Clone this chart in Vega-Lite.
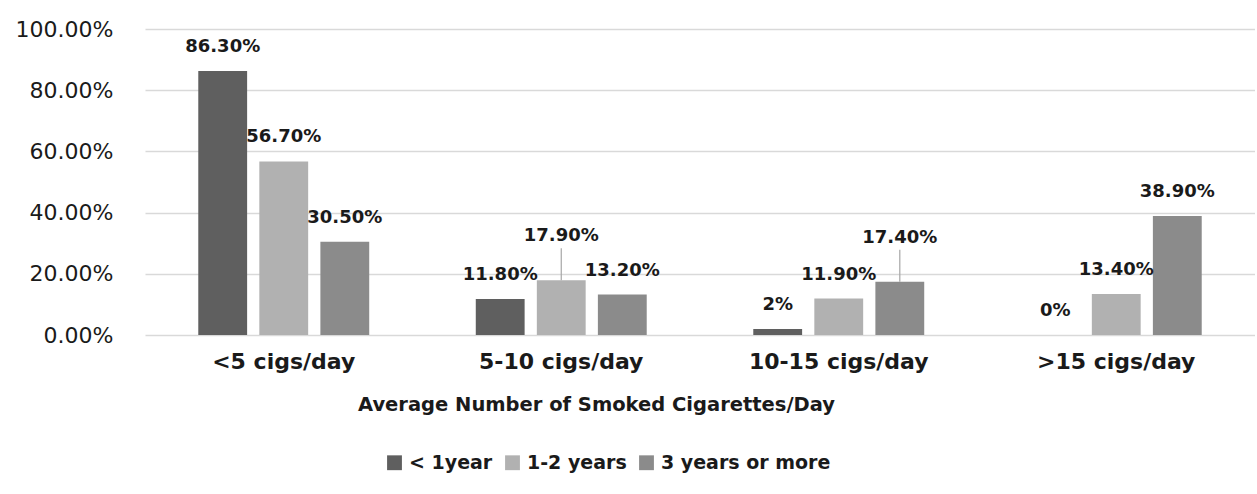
{
  "$schema": "https://vega.github.io/schema/vega-lite/v6.json",
  "width": 1110,
  "height": 306,
  "autosize": {"type": "none"},
  "padding": {"left": 145, "top": 29, "right": 0, "bottom": 159},
  "background": "white",
  "config": {
    "view": {"stroke": null},
    "font": "DejaVu Sans"
  },
  "data": {
    "values": [
      {"category": "<5 cigs/day", "group": "< 1year", "value": 0.863, "label": "86.30%"},
      {"category": "<5 cigs/day", "group": "1-2 years", "value": 0.567, "label": "56.70%"},
      {"category": "<5 cigs/day", "group": "3 years or more", "value": 0.305, "label": "30.50%"},
      {"category": "5-10 cigs/day", "group": "< 1year", "value": 0.118, "label": "11.80%"},
      {"category": "5-10 cigs/day", "group": "1-2 years", "value": 0.179, "label": "17.90%"},
      {"category": "5-10 cigs/day", "group": "3 years or more", "value": 0.132, "label": "13.20%"},
      {"category": "10-15 cigs/day", "group": "< 1year", "value": 0.02, "label": "2%"},
      {"category": "10-15 cigs/day", "group": "1-2 years", "value": 0.119, "label": "11.90%"},
      {"category": "10-15 cigs/day", "group": "3 years or more", "value": 0.174, "label": "17.40%"},
      {"category": ">15 cigs/day", "group": "< 1year", "value": 0.0, "label": "0%"},
      {"category": ">15 cigs/day", "group": "1-2 years", "value": 0.134, "label": "13.40%"},
      {"category": ">15 cigs/day", "group": "3 years or more", "value": 0.389, "label": "38.90%"}
    ]
  },
  "encoding": {
    "x": {
      "field": "category",
      "type": "nominal",
      "sort": ["<5 cigs/day", "5-10 cigs/day", "10-15 cigs/day", ">15 cigs/day"],
      "scale": {"paddingInner": 0.34, "paddingOuter": 0.17},
      "axis": {
        "title": "Average Number of Smoked Cigarettes/Day",
        "titleFont": "DejaVu Sans",
        "titleFontWeight": "bold",
        "titleFontSize": 19.5,
        "titleColor": "#1a1a1a",
        "titleX": 451,
        "titleY": 60,
        "labelAngle": 0,
        "labelFontSize": 22,
        "labelFontWeight": "bold",
        "labelColor": "#1a1a1a",
        "labelPadding": 16,
        "labelLimit": 300,
        "ticks": false,
        "domain": false
      }
    },
    "xOffset": {
      "field": "group",
      "type": "nominal",
      "sort": ["< 1year", "1-2 years", "3 years or more"],
      "scale": {"paddingInner": 0.2, "paddingOuter": 0.1}
    },
    "y": {
      "field": "value",
      "type": "quantitative",
      "scale": {"domain": [0, 1]},
      "axis": {
        "title": null,
        "format": ".2%",
        "values": [0, 0.2, 0.4, 0.6, 0.8, 1.0],
        "labelFontSize": 22,
        "labelColor": "#1a1a1a",
        "labelPadding": 32,
        "ticks": false,
        "domain": false,
        "grid": true,
        "gridColor": "#d9d9d9",
        "gridWidth": 1.5
      }
    }
  },
  "layer": [
    {
      "mark": {"type": "bar"},
      "encoding": {
        "color": {
          "field": "group",
          "type": "nominal",
          "sort": ["< 1year", "1-2 years", "3 years or more"],
          "scale": {
            "domain": ["< 1year", "1-2 years", "3 years or more"],
            "range": ["#5f5f5f", "#b1b1b1", "#8b8b8b"]
          },
          "legend": {
            "title": null,
            "orient": "none",
            "direction": "horizontal",
            "legendX": 240,
            "legendY": 424,
            "symbolType": "square",
            "symbolSize": 220,
            "symbolStrokeWidth": 0,
            "labelFontSize": 19,
            "labelFontWeight": "bold",
            "labelColor": "#1a1a1a",
            "labelLimit": 400,
            "columnPadding": 10,
            "labelOffset": 5
          }
        }
      }
    },
    {
      "transform": [{"filter": "datum.label != '17.90%' && datum.label != '17.40%'"}],
      "mark": {"type": "text", "baseline": "middle", "dy": -24, "fontSize": 18, "fontWeight": "bold", "color": "#1a1a1a"},
      "encoding": {"text": {"field": "label"}}
    },
    {
      "transform": [{"filter": "datum.label == '17.90%' || datum.label == '17.40%'"}],
      "mark": {"type": "text", "baseline": "middle", "dy": -44, "fontSize": 18, "fontWeight": "bold", "color": "#1a1a1a"},
      "encoding": {"text": {"field": "label"}}
    },
    {
      "transform": [{"filter": "datum.label == '17.90%' || datum.label == '17.40%'"}],
      "mark": {"type": "rule", "color": "#a6a6a6", "strokeWidth": 1.2, "y2Offset": -32},
      "encoding": {"y2": {"field": "value"}}
    }
  ]
}
